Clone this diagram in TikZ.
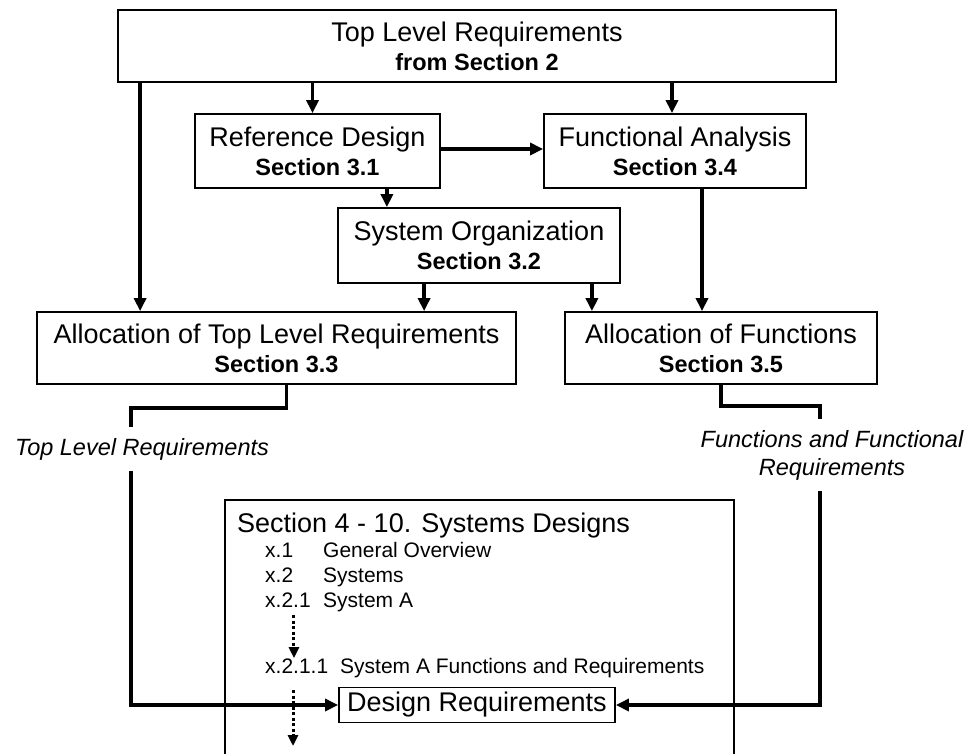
\documentclass[tikz,border=0pt]{standalone}
\usepackage{fontspec}
\setmainfont{Liberation Sans}
\usetikzlibrary{arrows.meta, positioning}
\newcommand{\mainfs}{\fontsize{27}{29}\selectfont}
\newcommand{\secfs}{\fontsize{23.5}{29}\selectfont\bfseries}
\newcommand{\itemfs}{\fontsize{21}{24}\selectfont}

\begin{document}
\begin{tikzpicture}[x=1pt, y=-1pt,
    box/.style={draw, line width=1.8pt, align=center, inner sep=0pt, font=\mainfs},
    item/.style={anchor=base west, inner sep=0pt, font=\itemfs},
    flow/.style={line width=3.6pt, -{Triangle[length=13pt,width=12pt]}},
    link/.style={line width=3.6pt},
    dots/.style={line width=3pt, dash pattern=on 3pt off 2.5pt, -{Triangle[length=11pt,width=10pt]}},
    lbl/.style={font=\fontsize{23.5}{28}\selectfont\itshape, align=center, inner xsep=0pt, inner ysep=11pt}
  ]
  \useasboundingbox (0,0) rectangle (971,753);
  \clip (0,0) rectangle (971,753);

  % analysis boxes
  \node[box, minimum width=718pt, minimum height=72pt] (top) at (477,46) {Top Level Requirements\\{\secfs from Section 2}};
  \node[box, minimum width=245pt, minimum height=74pt] (refd) at (317.5,151) {Reference Design\\{\secfs Section 3.1}};
  \node[box, minimum width=262pt, minimum height=74pt] (funca) at (675,151) {Functional Analysis\\{\secfs Section 3.4}};
  \node[box, minimum width=282pt, minimum height=75pt] (sysorg) at (479,245.5) {System Organization\\{\secfs Section 3.2}};
  \node[box, minimum width=479pt, minimum height=72pt] (alloct) at (276.5,348) {Allocation of Top Level Requirements\\{\secfs Section 3.3}};
  \node[box, minimum width=312pt, minimum height=72pt] (allocf) at (721,348) {Allocation of Functions\\{\secfs Section 3.5}};

  % systems design section
  \node[draw, line width=1.8pt, minimum width=509pt, minimum height=280pt, anchor=north west, inner sep=0pt] (sect) at (224,499) {};
  \node[anchor=base west, inner sep=0pt, font=\mainfs] (secttitle) at (237,532) {Section 4 - 10. Systems Designs};
  \foreach \num/\txt/\yy [count=\i] in {x.1/General Overview/557, x.2/Systems/582, x.2.1/System A/607} {
    \node[item] (num\i) at (265,\yy) {\num};
    \node[item] (txt\i) at (323,\yy) {\txt};
  }
  \node[item] (num4) at (265,673) {x.2.1.1};
  \node[item] (txt4) at (340,673) {System A Functions and Requirements};
  \node[draw, line width=1.8pt, font=\mainfs, minimum width=276pt, minimum height=35pt, inner sep=0pt] (design) at (477,705) {Design Requirements};
  \coordinate (dend) at (293,746);
  \draw[dots] ([xshift=6pt, yshift=-8pt]num3.south) -- ([xshift=6pt]num3.south |- num4.north);
  \draw[dots] ([yshift=-17pt]num4.south -| dend) -- (dend);

  % flow between boxes
  \draw[flow] ([xshift=23pt]top.south west) -- ([xshift=23pt]top.south west |- alloct.north);
  \draw[flow] ([xshift=-5pt]refd.north |- top.south) -- ([xshift=-5pt]refd.north);
  \draw[flow] ([xshift=-3pt]funca.north |- top.south) -- ([xshift=-3pt]funca.north);
  \draw[flow] ([yshift=2pt]refd.east) -- ([yshift=2pt]funca.west);
  \draw[flow] ([xshift=-54pt]refd.south east) -- ([xshift=-54pt]refd.south east |- sysorg.north);
  \draw[flow] ([xshift=87pt]sysorg.south west) -- ([xshift=87pt]sysorg.south west |- alloct.north);
  \draw[flow] ([xshift=-29pt]sysorg.south east) -- ([xshift=-29pt]sysorg.south east |- allocf.north);
  \draw[flow] ([xshift=27pt]funca.south) -- ([xshift=27pt]funca.south |- allocf.north);

  % requirements into the design
  \node[lbl, anchor=base] (toplbl) at (142,455) {Top Level Requirements};
  \coordinate (tlbend) at (131,408);
  \draw[link] ([xshift=10pt]alloct.south) |- (tlbend) -- (tlbend |- toplbl.north);
  \draw[flow] (tlbend |- toplbl.south) |- (design.west);

  \node[lbl] (fnlbl) at (832,455) {Functions and Functional\\Requirements};
  \coordinate (fnbend) at (820,406);
  \draw[link] (allocf.south) |- (fnbend) -- (fnbend |- fnlbl.north);
  \draw[flow] (fnbend |- fnlbl.south) |- (design.east);
\end{tikzpicture}
\end{document}
